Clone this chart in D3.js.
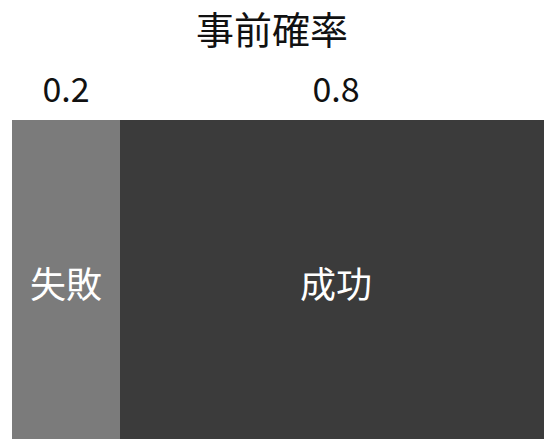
<!DOCTYPE html>
<html><head><meta charset="utf-8">
<script src="https://cdn.jsdelivr.net/npm/d3@7"></script>
<style>body{margin:0;background:#fff;} text{font-family:"Noto Sans CJK JP","Noto Sans",sans-serif;}</style>
</head><body><svg id="c" width="544" height="439"></svg>
<script>
const title = "事前確率";
const categories = ["失敗", "成功"];
const values = [0.2, 0.8];
const valueLabels = ["0.2", "0.8"];
const colors = ["#7b7b7b", "#3b3b3b"];

const W = 544, H = 439;
const svg = d3.select("#c");
const x = d3.scaleLinear().domain([0, 1]).range([12, 552]);
const y0 = 120;
let cum = 0;
const data = categories.map((c, i) => { const d = {c, v: values[i], s: cum, lab: valueLabels[i], col: colors[i]}; cum += values[i]; return d; });

svg.append("text").attr("x", W/2).attr("y", 44).attr("text-anchor", "middle")
  .attr("font-size", 38).attr("fill", "#111").text(title);

svg.selectAll("rect.bar").data(data).join("rect").attr("class", "bar")
  .attr("x", d => x(d.s)).attr("width", d => x(d.s + d.v) - x(d.s))
  .attr("y", y0).attr("height", H - y0).attr("fill", d => d.col);

svg.selectAll("text.val").data(data).join("text").attr("class", "val")
  .attr("x", d => (x(d.s) + x(d.s + d.v)) / 2).attr("y", 102)
  .attr("text-anchor", "middle").attr("font-size", 34).attr("fill", "#111").text(d => d.lab);

svg.selectAll("text.cat").data(data).join("text").attr("class", "cat")
  .attr("x", d => (x(d.s) + x(d.s + d.v)) / 2).attr("y", 298)
  .attr("text-anchor", "middle").attr("font-size", 36).attr("fill", "#fff").text(d => d.c);
</script></body></html>
